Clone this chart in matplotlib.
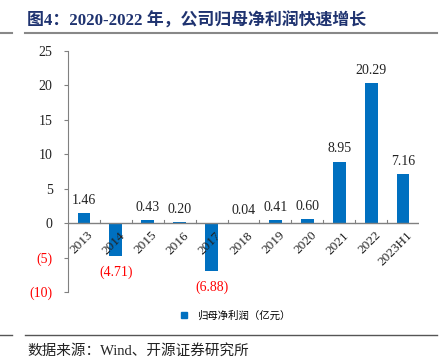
import numpy as np
import matplotlib.pyplot as plt
from matplotlib.lines import Line2D

# data
years = ['2013', '2014', '2015', '2016', '2017', '2018', '2019', '2020', '2021', '2022', '2023H1']
profit = [1.46, -4.71, 0.43, 0.20, -6.88, 0.04, 0.41, 0.60, 8.95, 20.29, 7.16]
yticks = [-10, -5, 0, 5, 10, 15, 20, 25]

serif = ['Liberation Serif', 'Noto Sans CJK SC']
cjk = ['Noto Sans CJK SC', 'DejaVu Sans']
blue = '#0070C0'

fig = plt.figure(figsize=(4.44, 3.64), dpi=100)
ax = fig.add_axes([68/444, 1 - 292/364, (419 - 68)/444, (292 - 51)/364])

x = np.arange(len(years))
ax.bar(x, profit, width=0.4, color=blue, zorder=3)

for xi, v in zip(x, profit):
    if v >= 0:
        ax.text(xi, v + 0.9, f'{v:.2f}', ha='center', va='bottom',
                fontsize=10, family=serif, color='#222222')
    else:
        ax.text(xi, v - 1.4, f'({-v:.2f})', ha='center', va='top',
                fontsize=10, family=serif, color='#FF0000')

ax.set_xlim(-0.5, len(years) - 0.5)
ax.set_ylim(-10, 25)
ax.set_yticks(yticks)
ax.set_yticklabels([f'({-t})' if t < 0 else str(t) for t in yticks], family=serif, fontsize=10)
for lab, t in zip(ax.get_yticklabels(), yticks):
    lab.set_color('#FF0000' if t < 0 else '#222222')
ax.tick_params(axis='y', direction='out', length=3, color='#808080', pad=8)

# x axis drawn at zero, ticks at category boundaries
for s in ['top', 'right', 'bottom']:
    ax.spines[s].set_visible(False)
ax.spines['left'].set_color('#808080')
ax.axhline(0, color='#808080', lw=1, zorder=4)
ax.set_xticks([])
for b in np.arange(0.5, len(years) - 0.5, 1.0):
    ax.plot([b, b], [0, 0.45], color='#808080', lw=0.8, zorder=4)
for xi, lab in zip(x, years):
    ax.text(xi + 0.1, -0.9, lab, rotation=45, ha='right', va='top',
            fontsize=9.5, family=serif, color='#222222', rotation_mode='anchor')

# legend
h = Line2D([], [], marker='s', color=blue, linestyle='none', markersize=5)
fig.legend([h], ['归母净利润（亿元）'], loc='center', bbox_to_anchor=(232/444, 1 - 316/364),
           frameon=False, prop={'family': cjk, 'size': 7.5}, handletextpad=0.2)

# title and source
fig.text(27/444, 1 - 21/364, '图4：2020-2022 年，公司归母净利润快速增长', fontsize=12.2,
         fontweight='bold', color='#1F3370', family=serif, va='center')
fig.add_artist(Line2D([25/444, 437/444], [1 - 33/364] * 2, color='#888888', lw=1.5))
fig.add_artist(Line2D([0, 12/444], [1 - 33/364] * 2, color='#888888', lw=1.5))
fig.add_artist(Line2D([25/444, 437/444], [1 - 335/364] * 2, color='#555555', lw=1))
fig.add_artist(Line2D([0, 12/444], [1 - 335/364] * 2, color='#555555', lw=1))
fig.text(27/444, 1 - 351/364, '数据来源：Wind、开源证券研究所', fontsize=10.5,
         color='#222222', family=serif, va='center')

fig.savefig('out.png', dpi=100)
